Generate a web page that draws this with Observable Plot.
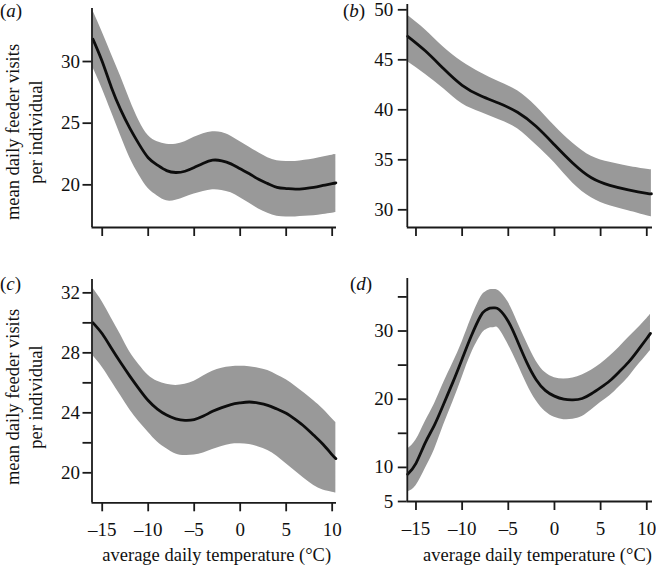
<!DOCTYPE html>
<html><head><meta charset="utf-8">
<script src="https://cdn.jsdelivr.net/npm/d3@7"></script>
<script src="https://cdn.jsdelivr.net/npm/@observablehq/plot@0.6"></script>
<style>
html,body{margin:0;padding:0;background:#fff;}
#fig{position:relative;width:656px;height:567px;font-family:'Liberation Serif',serif;color:#111;overflow:hidden;}
#fig svg, #fig svg text{font-family:'Liberation Serif',serif !important;}
.panel{position:absolute;}
.tag{position:absolute;font-family:'Liberation Serif',serif;font-size:19px;line-height:1;white-space:nowrap;}
.ytitle{position:absolute;font-family:'Liberation Serif',serif;font-size:18.5px;line-height:23px;text-align:center;white-space:pre;transform:translate(-50%,-50%) rotate(-90deg);}
.xtitle{position:absolute;font-family:'Liberation Serif',serif;font-size:18.5px;line-height:1;white-space:nowrap;transform:translateX(-50%);}
</style></head><body><div id="fig"></div>
<script>
// ---- data ----
const xTicks = [-15, -10, -5, 0, 5, 10];
const yTitle = "mean daily feeder visits\nper individual";
const xTitle = "average daily temperature (°C)";

// (a)
const tempA = [-16,-15,-14,-13,-12,-11,-10,-9,-8,-7,-6,-5,-4,-3,-2,-1,0,1,2,3,4,5,6,7,8,9,10,10.4];
const fitA  = [31.8,30.0,27.9,26.1,24.6,23.3,22.2,21.6,21.15,21.0,21.1,21.4,21.75,22.0,21.95,21.7,21.3,20.9,20.45,20.1,19.8,19.7,19.65,19.7,19.8,19.95,20.1,20.15];
const hiA   = [34.1,32.4,30.6,28.8,26.9,25.2,24.0,23.5,23.3,23.3,23.5,23.85,24.15,24.3,24.25,23.95,23.5,23.05,22.6,22.2,21.95,21.9,21.9,22.0,22.1,22.25,22.4,22.45];
const loA   = [29.5,27.8,25.9,24.0,22.2,20.8,19.7,19.1,18.7,18.75,19.0,19.25,19.45,19.6,19.55,19.35,18.95,18.5,18.05,17.7,17.45,17.4,17.4,17.45,17.5,17.6,17.7,17.75];
const yTicksA = [20, 25, 30];
const yLabelsA = [20, 25, 30];

// (b)
const tempB = [-15.9,-14,-12,-10,-8,-6,-4,-2,0,2,4,6,8,10,10.5];
const fitB  = [47.35,45.9,44.1,42.45,41.4,40.65,39.75,38.35,36.5,34.65,33.2,32.45,32.0,31.65,31.6];
const hiB   = [49.45,48.0,46.25,44.8,43.7,42.8,41.9,40.35,38.4,36.65,35.35,34.75,34.35,34.05,34.0];
const loB   = [44.8,43.55,42.1,40.6,39.75,39.0,38.1,36.5,34.7,32.65,31.2,30.4,29.9,29.4,29.3];
const yTicksB = [30, 35, 40, 45, 50];
const yLabelsB = [30, 35, 40, 45, 50];

// (c)
const tempC = [-16,-15,-14,-13,-12,-11,-10,-9,-8,-7,-6,-5,-4,-3,-2,-1,0,1,2,3,4,5,6,7,8,9,10,10.4];
const fitC  = [30.0,29.27,28.3,27.35,26.45,25.6,24.82,24.25,23.85,23.6,23.5,23.55,23.78,24.1,24.35,24.55,24.66,24.72,24.65,24.5,24.25,23.97,23.55,23.07,22.5,21.9,21.2,20.95];
const hiC   = [32.3,31.4,30.3,29.2,28.05,27.2,26.5,26.1,25.9,25.82,25.9,26.1,26.45,26.78,26.97,27.07,27.1,27.07,26.98,26.82,26.52,26.2,25.77,25.3,24.8,24.25,23.6,23.35];
const loC   = [27.8,27.04,26.1,25.15,24.2,23.4,22.7,22.05,21.6,21.25,21.15,21.18,21.32,21.55,21.75,21.9,21.93,21.88,21.72,21.48,21.1,20.6,20.1,19.6,19.15,18.85,18.7,18.65];
const yTicksC = [20, 22, 24, 26, 28, 30, 32];
const yLabelsC = [20, 24, 28, 32];

// (d)
const tempD = [-15.9,-15,-14,-13,-12,-11,-10,-9,-8,-7.5,-7,-6.5,-6,-5,-4,-3,-2,-1,0,1,2,3,4,5,6,7,8,9,10,10.4];
const fitD  = [9.0,10.6,13.6,16.2,19.3,22.5,25.9,29.3,32.2,33.0,33.35,33.4,33.15,31.4,28.5,25.4,22.9,21.3,20.45,20.0,19.9,20.1,20.8,21.7,22.7,24.0,25.4,27.1,28.9,29.65];
const hiD   = [12.7,14.0,16.7,19.3,22.4,25.3,28.4,31.9,34.9,35.7,36.05,36.1,35.85,34.2,31.3,28.3,25.6,23.9,23.15,22.95,23.1,23.55,24.25,25.15,26.3,27.6,29.0,30.35,31.8,32.45];
const loD   = [6.4,7.3,9.8,12.6,16.2,19.6,23.2,26.7,29.3,30.1,30.45,30.5,30.3,28.0,25.2,22.24,19.8,18.2,17.35,17.0,17.05,17.45,18.4,19.5,20.5,21.8,23.2,24.9,26.5,27.15];
const yTicksD = [5, 10, 15, 20, 25, 30, 35];
const yLabelsD = [5, 10, 20, 30];

// ---- drawing ----
const fig = document.getElementById("fig");
const AX = "#1a1a1a";
const FONT = "'Liberation Serif', serif";

function panel(cfg) {
  const data = cfg.temp.map((t, i) => ({t, fit: cfg.fit[i], lo: cfg.lo[i], hi: cfg.hi[i]}));
  const marks = [
    Plot.areaY(data, {x: "t", y1: "lo", y2: "hi", fill: "#999999", curve: "natural"}),
    Plot.lineY(data, {x: "t", y: "fit", stroke: "#0d0d0d", strokeWidth: 2.8, curve: "natural"}),
    Plot.ruleX([cfg.xDomain[0]], {stroke: AX, strokeWidth: 1.8}),
    Plot.ruleY([cfg.yDomain[0]], {stroke: AX, strokeWidth: 1.8}),
    Plot.axisY(cfg.yTicks, {tickSize: 9, tickPadding: cfg.yPad, strokeWidth: 1.8, stroke: AX, fill: "#111",
      fontSize: 19, fontFamily: FONT, label: null, tickFormat: d => cfg.yLabels.includes(d) ? String(d) : ""}),
    Plot.axisX(xTicks, {tickSize: 9, tickPadding: 11, strokeWidth: 1.8, stroke: AX, fill: "#111",
      fontSize: 19, fontFamily: FONT, label: null,
      tickFormat: cfg.xLabels ? (d => d < 0 ? "\u2013" + Math.abs(d) : String(d)) : (() => "")})
  ];
  const svg = Plot.plot({
    width: cfg.w, height: cfg.h,
    marginLeft: cfg.m[0], marginRight: cfg.m[1], marginTop: cfg.m[2], marginBottom: cfg.m[3],
    x: {domain: cfg.xDomain},
    y: {domain: cfg.yDomain},
    style: {background: "none", overflow: "visible", color: "#111", fontFamily: FONT},
    marks
  });
  const div = document.createElement("div");
  div.className = "panel";
  div.style.left = cfg.left + "px";
  div.style.top = cfg.top + "px";
  div.style.width = cfg.w + "px";
  div.appendChild(svg);
  fig.appendChild(div);
}

const xDomL = [-16.11, 10.47];
const xDomR = [-15.94, 10.62];

panel({left: 0, top: 0, w: 340, h: 245, m: [91.5, 4, 8, 18],
  temp: tempA, fit: fitA, lo: loA, hi: hiA, xDomain: xDomL, yDomain: [16.54, 34.3],
  yTicks: yTicksA, yLabels: yLabelsA, yPad: 3, xLabels: false});
panel({left: 340, top: 0, w: 316, h: 245, m: [66.8, 4, 4, 18],
  temp: tempB, fit: fitB, lo: loB, hi: hiB, xDomain: xDomR, yDomain: [28.23, 50.53],
  yTicks: yTicksB, yLabels: yLabelsB, yPad: 5, xLabels: false});
panel({left: 0, top: 245, w: 340, h: 322, m: [91.5, 4, 34, 64.7],
  temp: tempC, fit: fitC, lo: loC, hi: hiC, xDomain: xDomL, yDomain: [18.0, 32.89],
  yTicks: yTicksC, yLabels: yLabelsC, yPad: 3, xLabels: true});
panel({left: 340, top: 245, w: 316, h: 322, m: [66.8, 4, 33, 66],
  temp: tempD, fit: fitD, lo: loD, hi: hiD, xDomain: xDomR, yDomain: [5, 37.7],
  yTicks: yTicksD, yLabels: yLabelsD, yPad: 5, xLabels: true});

function addText(cls, txt, x, y) {
  const d = document.createElement("div");
  d.className = cls;
  d.style.left = x + "px";
  d.style.top = y + "px";
  d.textContent = txt;
  fig.appendChild(d);
}
// axis titles
addText("ytitle", yTitle, 25, 131.5);
addText("ytitle", yTitle, 25, 396.5);
addText("xtitle", xTitle, 216.7, 546);
addText("xtitle", xTitle, 537.5, 546);

// panel letters
[["a", 0, 1], ["b", 343, 1], ["c", 0, 274], ["d", 350, 274]].forEach(([l, x, y]) => {
  const s = document.createElement("span");
  s.className = "tag";
  s.style.left = x + "px";
  s.style.top = y + "px";
  s.innerHTML = "(<i>" + l + "</i>)";
  fig.appendChild(s);
});
</script>
</body></html>
